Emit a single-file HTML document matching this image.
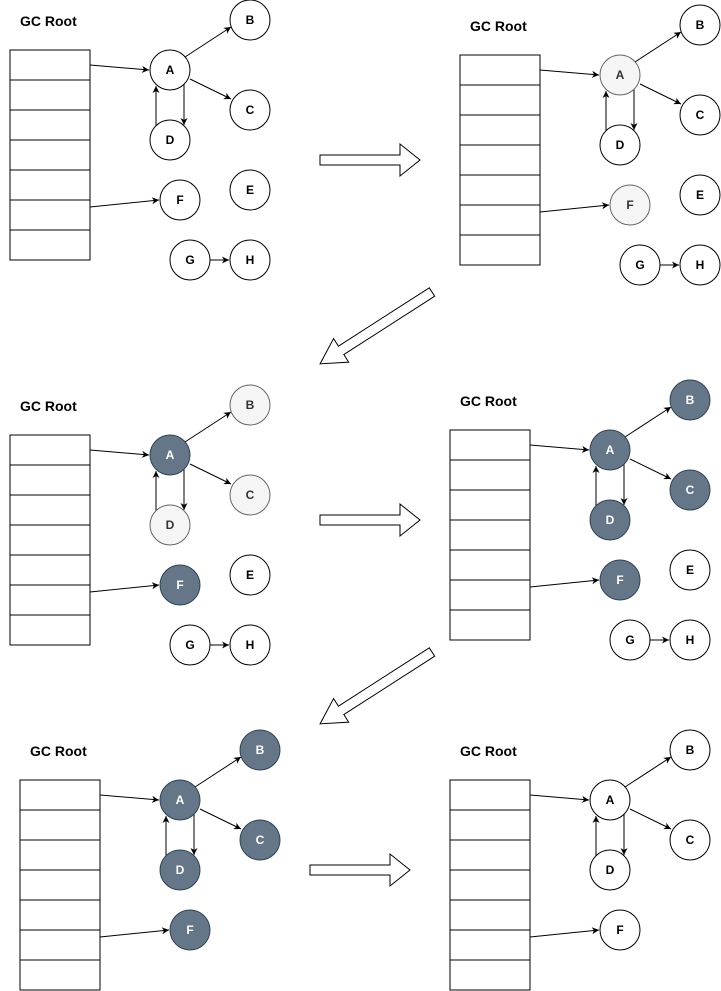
<!DOCTYPE html>
<html><head><meta charset="utf-8"><style>
html,body{margin:0;padding:0;background:#fff;}
svg{display:block;}
text{font-family:"Liberation Sans",Arial,sans-serif;font-weight:bold;}
.t{font-size:14px;fill:#000;}
.n{font-size:12px;text-anchor:middle;dominant-baseline:central;}
.w circle{fill:#fff;stroke:#000;stroke-width:1;}
.w text{fill:#000;}
.l circle{fill:#f5f5f5;stroke:#666;stroke-width:1;}
.l text{fill:#333;}
.d circle{fill:#647687;stroke:#314354;stroke-width:1;}
.d text{fill:#fff;}
.e{stroke:#000;stroke-width:1;fill:none;marker-end:url(#ar);}
.tb rect{fill:#fff;stroke:#000;stroke-width:1;}
.big{fill:#fff;stroke:#000;stroke-width:1;}
</style></head><body>
<svg width="721" height="991" viewBox="0 0 721 991" xmlns="http://www.w3.org/2000/svg">
<defs>
<marker id="ar" markerWidth="8" markerHeight="8" refX="7" refY="4" orient="auto" markerUnits="userSpaceOnUse">
<path d="M0,0.5 L7,4 L0,7.5 L2,4 Z" fill="#000"/>
</marker>
</defs>

<!-- Panel 1 -->
<g transform="translate(0,0)">
<text class="t" x="20" y="26">GC Root</text>
<g class="tb"><rect x="10" y="50" width="80" height="30"/><rect x="10" y="80" width="80" height="30"/><rect x="10" y="110" width="80" height="30"/><rect x="10" y="140" width="80" height="30"/><rect x="10" y="170" width="80" height="30"/><rect x="10" y="200" width="80" height="30"/><rect x="10" y="230" width="80" height="30"/></g>
<line class="e" x1="90" y1="65" x2="149" y2="70"/>
<line class="e" x1="185" y1="57" x2="231" y2="27"/>
<line class="e" x1="190" y1="79" x2="231" y2="99"/>
<line class="e" x1="156" y1="126" x2="156" y2="86"/>
<line class="e" x1="184" y1="84" x2="184" y2="125"/>
<line class="e" x1="90" y1="207" x2="159" y2="200"/>
<line class="e" x1="210" y1="260" x2="229" y2="260"/>
<g class="w"><circle cx="170" cy="70" r="20"/><text class="n" x="170" y="70">A</text></g>
<g class="w"><circle cx="250" cy="20" r="20"/><text class="n" x="250" y="20">B</text></g>
<g class="w"><circle cx="250" cy="110" r="20"/><text class="n" x="250" y="110">C</text></g>
<g class="w"><circle cx="170" cy="140" r="20"/><text class="n" x="170" y="140">D</text></g>
<g class="w"><circle cx="250" cy="190" r="20"/><text class="n" x="250" y="190">E</text></g>
<g class="w"><circle cx="180" cy="200" r="20"/><text class="n" x="180" y="200">F</text></g>
<g class="w"><circle cx="190" cy="260" r="20"/><text class="n" x="190" y="260">G</text></g>
<g class="w"><circle cx="250" cy="260" r="20"/><text class="n" x="250" y="260">H</text></g>
</g>

<!-- Panel 2 -->
<g transform="translate(450,5)">
<text class="t" x="20" y="26">GC Root</text>
<g class="tb"><rect x="10" y="50" width="80" height="30"/><rect x="10" y="80" width="80" height="30"/><rect x="10" y="110" width="80" height="30"/><rect x="10" y="140" width="80" height="30"/><rect x="10" y="170" width="80" height="30"/><rect x="10" y="200" width="80" height="30"/><rect x="10" y="230" width="80" height="30"/></g>
<line class="e" x1="90" y1="65" x2="149" y2="70"/>
<line class="e" x1="185" y1="57" x2="231" y2="27"/>
<line class="e" x1="190" y1="79" x2="231" y2="99"/>
<line class="e" x1="156" y1="126" x2="156" y2="86"/>
<line class="e" x1="184" y1="84" x2="184" y2="125"/>
<line class="e" x1="90" y1="207" x2="159" y2="200"/>
<line class="e" x1="210" y1="260" x2="229" y2="260"/>
<g class="l"><circle cx="170" cy="70" r="20"/><text class="n" x="170" y="70">A</text></g>
<g class="w"><circle cx="250" cy="20" r="20"/><text class="n" x="250" y="20">B</text></g>
<g class="w"><circle cx="250" cy="110" r="20"/><text class="n" x="250" y="110">C</text></g>
<g class="w"><circle cx="170" cy="140" r="20"/><text class="n" x="170" y="140">D</text></g>
<g class="w"><circle cx="250" cy="190" r="20"/><text class="n" x="250" y="190">E</text></g>
<g class="l"><circle cx="180" cy="200" r="20"/><text class="n" x="180" y="200">F</text></g>
<g class="w"><circle cx="190" cy="260" r="20"/><text class="n" x="190" y="260">G</text></g>
<g class="w"><circle cx="250" cy="260" r="20"/><text class="n" x="250" y="260">H</text></g>
</g>

<!-- Panel 3 -->
<g transform="translate(0,385)">
<text class="t" x="20" y="26">GC Root</text>
<g class="tb"><rect x="10" y="50" width="80" height="30"/><rect x="10" y="80" width="80" height="30"/><rect x="10" y="110" width="80" height="30"/><rect x="10" y="140" width="80" height="30"/><rect x="10" y="170" width="80" height="30"/><rect x="10" y="200" width="80" height="30"/><rect x="10" y="230" width="80" height="30"/></g>
<line class="e" x1="90" y1="65" x2="149" y2="70"/>
<line class="e" x1="185" y1="57" x2="231" y2="27"/>
<line class="e" x1="190" y1="79" x2="231" y2="99"/>
<line class="e" x1="156" y1="126" x2="156" y2="86"/>
<line class="e" x1="184" y1="84" x2="184" y2="125"/>
<line class="e" x1="90" y1="207" x2="159" y2="200"/>
<line class="e" x1="210" y1="260" x2="229" y2="260"/>
<g class="d"><circle cx="170" cy="70" r="20"/><text class="n" x="170" y="70">A</text></g>
<g class="l"><circle cx="250" cy="20" r="20"/><text class="n" x="250" y="20">B</text></g>
<g class="l"><circle cx="250" cy="110" r="20"/><text class="n" x="250" y="110">C</text></g>
<g class="l"><circle cx="170" cy="140" r="20"/><text class="n" x="170" y="140">D</text></g>
<g class="w"><circle cx="250" cy="190" r="20"/><text class="n" x="250" y="190">E</text></g>
<g class="d"><circle cx="180" cy="200" r="20"/><text class="n" x="180" y="200">F</text></g>
<g class="w"><circle cx="190" cy="260" r="20"/><text class="n" x="190" y="260">G</text></g>
<g class="w"><circle cx="250" cy="260" r="20"/><text class="n" x="250" y="260">H</text></g>
</g>

<!-- Panel 4 -->
<g transform="translate(440,380)">
<text class="t" x="20" y="26">GC Root</text>
<g class="tb"><rect x="10" y="50" width="80" height="30"/><rect x="10" y="80" width="80" height="30"/><rect x="10" y="110" width="80" height="30"/><rect x="10" y="140" width="80" height="30"/><rect x="10" y="170" width="80" height="30"/><rect x="10" y="200" width="80" height="30"/><rect x="10" y="230" width="80" height="30"/></g>
<line class="e" x1="90" y1="65" x2="149" y2="70"/>
<line class="e" x1="185" y1="57" x2="231" y2="27"/>
<line class="e" x1="190" y1="79" x2="231" y2="99"/>
<line class="e" x1="156" y1="126" x2="156" y2="86"/>
<line class="e" x1="184" y1="84" x2="184" y2="125"/>
<line class="e" x1="90" y1="207" x2="159" y2="200"/>
<line class="e" x1="210" y1="260" x2="229" y2="260"/>
<g class="d"><circle cx="170" cy="70" r="20"/><text class="n" x="170" y="70">A</text></g>
<g class="d"><circle cx="250" cy="20" r="20"/><text class="n" x="250" y="20">B</text></g>
<g class="d"><circle cx="250" cy="110" r="20"/><text class="n" x="250" y="110">C</text></g>
<g class="d"><circle cx="170" cy="140" r="20"/><text class="n" x="170" y="140">D</text></g>
<g class="w"><circle cx="250" cy="190" r="20"/><text class="n" x="250" y="190">E</text></g>
<g class="d"><circle cx="180" cy="200" r="20"/><text class="n" x="180" y="200">F</text></g>
<g class="w"><circle cx="190" cy="260" r="20"/><text class="n" x="190" y="260">G</text></g>
<g class="w"><circle cx="250" cy="260" r="20"/><text class="n" x="250" y="260">H</text></g>
</g>

<!-- Panel 5 -->
<g transform="translate(10,730)">
<text class="t" x="20" y="26">GC Root</text>
<g class="tb"><rect x="10" y="50" width="80" height="30"/><rect x="10" y="80" width="80" height="30"/><rect x="10" y="110" width="80" height="30"/><rect x="10" y="140" width="80" height="30"/><rect x="10" y="170" width="80" height="30"/><rect x="10" y="200" width="80" height="30"/><rect x="10" y="230" width="80" height="30"/></g>
<line class="e" x1="90" y1="65" x2="149" y2="70"/>
<line class="e" x1="185" y1="57" x2="231" y2="27"/>
<line class="e" x1="190" y1="79" x2="231" y2="99"/>
<line class="e" x1="156" y1="126" x2="156" y2="86"/>
<line class="e" x1="184" y1="84" x2="184" y2="125"/>
<line class="e" x1="90" y1="207" x2="159" y2="200"/>
<g class="d"><circle cx="170" cy="70" r="20"/><text class="n" x="170" y="70">A</text></g>
<g class="d"><circle cx="250" cy="20" r="20"/><text class="n" x="250" y="20">B</text></g>
<g class="d"><circle cx="250" cy="110" r="20"/><text class="n" x="250" y="110">C</text></g>
<g class="d"><circle cx="170" cy="140" r="20"/><text class="n" x="170" y="140">D</text></g>
<g class="d"><circle cx="180" cy="200" r="20"/><text class="n" x="180" y="200">F</text></g>
</g>

<!-- Panel 6 -->
<g transform="translate(440,730)">
<text class="t" x="20" y="26">GC Root</text>
<g class="tb"><rect x="10" y="50" width="80" height="30"/><rect x="10" y="80" width="80" height="30"/><rect x="10" y="110" width="80" height="30"/><rect x="10" y="140" width="80" height="30"/><rect x="10" y="170" width="80" height="30"/><rect x="10" y="200" width="80" height="30"/><rect x="10" y="230" width="80" height="30"/></g>
<line class="e" x1="90" y1="65" x2="149" y2="70"/>
<line class="e" x1="185" y1="57" x2="231" y2="27"/>
<line class="e" x1="190" y1="79" x2="231" y2="99"/>
<line class="e" x1="156" y1="126" x2="156" y2="86"/>
<line class="e" x1="184" y1="84" x2="184" y2="125"/>
<line class="e" x1="90" y1="207" x2="159" y2="200"/>
<g class="w"><circle cx="170" cy="70" r="20"/><text class="n" x="170" y="70">A</text></g>
<g class="w"><circle cx="250" cy="20" r="20"/><text class="n" x="250" y="20">B</text></g>
<g class="w"><circle cx="250" cy="110" r="20"/><text class="n" x="250" y="110">C</text></g>
<g class="w"><circle cx="170" cy="140" r="20"/><text class="n" x="170" y="140">D</text></g>
<g class="w"><circle cx="180" cy="200" r="20"/><text class="n" x="180" y="200">F</text></g>
</g>

<!-- Big hollow arrows -->
<polygon class="big" transform="translate(320,160)" points="0,-5 80,-5 80,-16 100,0 80,16 80,5 0,5"/>
<polygon class="big" transform="translate(320,520)" points="0,-5 80,-5 80,-16 100,0 80,16 80,5 0,5"/>
<polygon class="big" transform="translate(310,870)" points="0,-5 80,-5 80,-16 100,0 80,16 80,5 0,5"/>
<polygon class="big" transform="translate(432,292) rotate(147.3)" points="0,-5 108,-5 108,-14 133,0 108,14 108,5 0,5"/>
<polygon class="big" transform="translate(432,652) rotate(147.3)" points="0,-5 108,-5 108,-14 133,0 108,14 108,5 0,5"/>
</svg>
</body></html>
